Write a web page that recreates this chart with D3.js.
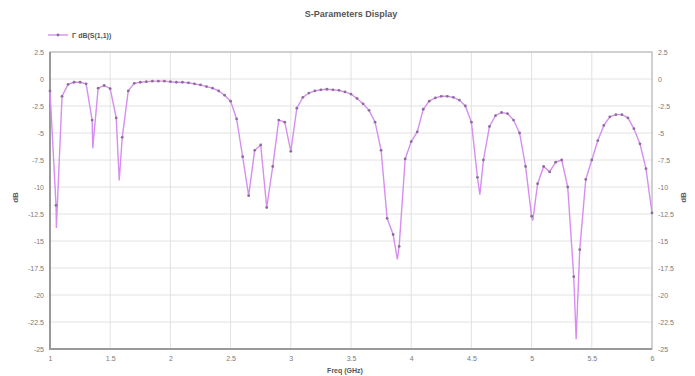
<!DOCTYPE html>
<html>
<head>
<meta charset="utf-8">
<script src="https://cdn.jsdelivr.net/npm/d3@7"></script>
<style>
  body { margin: 0; background: #fff; }
  svg text { font-family: "Liberation Sans", Arial, sans-serif; }
</style>
</head>
<body>
<div id="chart"></div>
<script>
// sample grid (markers), GHz
var freq = [1.00, 1.05, 1.10, 1.15, 1.20, 1.25, 1.30, 1.35, 1.40, 1.45,
            1.50, 1.55, 1.60, 1.65, 1.70, 1.75, 1.80, 1.85, 1.90, 1.95,
            2.00, 2.05, 2.10, 2.15, 2.20, 2.25, 2.30, 2.35, 2.40, 2.45,
            2.50, 2.55, 2.60, 2.65, 2.70, 2.75, 2.80, 2.85, 2.90, 2.95,
            3.00, 3.05, 3.10, 3.15, 3.20, 3.25, 3.30, 3.35, 3.40, 3.45,
            3.50, 3.55, 3.60, 3.65, 3.70, 3.75, 3.80, 3.85, 3.90, 3.95,
            4.00, 4.05, 4.10, 4.15, 4.20, 4.25, 4.30, 4.35, 4.40, 4.45,
            4.50, 4.55, 4.60, 4.65, 4.70, 4.75, 4.80, 4.85, 4.90, 4.95,
            5.00, 5.05, 5.10, 5.15, 5.20, 5.25, 5.30, 5.35, 5.40, 5.45,
            5.50, 5.55, 5.60, 5.65, 5.70, 5.75, 5.80, 5.85, 5.90, 5.95,
            6.00];

// dB(S(1,1))
var s11 = [-1.1, -11.7, -1.6, -0.5, -0.3, -0.3, -0.45, -3.8, -0.85, -0.6,
           -0.9, -3.6, -5.4, -1.1, -0.4, -0.3, -0.25, -0.2, -0.2, -0.2,
           -0.25, -0.3, -0.3, -0.35, -0.45, -0.55, -0.7, -0.85, -1.1, -1.5,
           -2.05, -3.7, -7.2, -10.8, -6.6, -6.1, -11.9, -8.1, -3.8, -4.0,
           -6.7, -2.7, -1.7, -1.3, -1.1, -1.0, -0.95, -1.0, -1.05, -1.2,
           -1.4, -1.8, -2.3, -2.9, -4.0, -6.6, -12.9, -14.4, -15.5, -7.4,
           -5.8, -4.9, -2.8, -2.05, -1.75, -1.6, -1.6, -1.7, -1.95, -2.5,
           -4.0, -9.1, -7.5, -4.4, -3.4, -3.1, -3.2, -3.8, -5.0, -8.1,
           -12.7, -9.7, -8.1, -8.6, -7.7, -7.5, -10.0, -18.3, -15.8, -9.3,
           -7.5, -5.7, -4.3, -3.5, -3.3, -3.3, -3.6, -4.6, -6.0, -8.3,
           -12.4];

// resonance minima between markers (line only)
var dipFreq = [1.053, 1.355, 1.575, 3.885, 4.57, 5.01, 5.37],
    dipDb   = [-13.8, -6.4, -9.4, -16.7, -10.7, -13.1, -24.1];

var xTicks = [1, 1.5, 2, 2.5, 3, 3.5, 4, 4.5, 5, 5.5, 6],
    yTicks = [2.5, 0, -2.5, -5, -7.5, -10, -12.5, -15, -17.5, -20, -22.5, -25];

var chartWidth = 695,
    chartHeight = 376,
    margin = {top: 52, right: 43, bottom: 27, left: 50},
    width = chartWidth - margin.left - margin.right,
    height = chartHeight - margin.top - margin.bottom,
    lineColor = "#d68ef0",
    markColor = "#8c6f99";

var svg = d3.select("#chart")
            .append("svg")
            .attr("width", chartWidth)
            .attr("height", chartHeight);

var g = svg.append("g")
           .attr("transform", "translate(" + margin.left + "," + margin.top + ")");

var xScale = d3.scaleLinear().domain([1, 6]).range([0, width]),
    yScale = d3.scaleLinear().domain([-25, 2.5]).range([height, 0]);

// grid
g.append("g")
 .selectAll("line")
 .data(xTicks)
 .enter().append("line")
 .attr("x1", d => xScale(d)).attr("x2", d => xScale(d))
 .attr("y1", 0).attr("y2", height)
 .attr("stroke", "#e2e2e2");

g.append("g")
 .selectAll("line")
 .data(yTicks)
 .enter().append("line")
 .attr("x1", 0).attr("x2", width)
 .attr("y1", d => yScale(d)).attr("y2", d => yScale(d))
 .attr("stroke", "#e2e2e2");

// axes, labels only
var fmt = d => String(d);
var axisLeft = d3.axisLeft(yScale).tickValues(yTicks).tickFormat(fmt).tickSize(0).tickPadding(6),
    axisRight = d3.axisRight(yScale).tickValues(yTicks).tickFormat(fmt).tickSize(0).tickPadding(6),
    axisBottom = d3.axisBottom(xScale).tickValues(xTicks).tickFormat(fmt).tickSize(0).tickPadding(7);

g.append("g").call(axisLeft);
g.append("g").attr("transform", "translate(" + width + ",0)").call(axisRight);
g.append("g").attr("transform", "translate(0," + height + ")").call(axisBottom);

g.selectAll(".domain").remove();
g.selectAll(".tick text")
 .attr("fill", "#7a7a7a")
 .style("font-size", "7px");

// frame
g.append("rect")
 .attr("width", width).attr("height", height)
 .attr("fill", "none")
 .attr("stroke", "#b0b0b0");
g.append("path")
 .attr("d", "M0,0V" + height + "H" + width)
 .attr("fill", "none")
 .attr("stroke", "#999")
 .attr("stroke-width", 2);

// trace = markers + dip points, sorted by frequency
var marks = freq.map((f, i) => [f, s11[i]]),
    pts = marks.concat(dipFreq.map((f, i) => [f, dipDb[i]]))
               .sort((a, b) => a[0] - b[0]);

var line = d3.line()
             .x(d => xScale(d[0]))
             .y(d => yScale(d[1]));

g.append("path")
 .datum(pts)
 .attr("d", line)
 .attr("fill", "none")
 .attr("stroke", lineColor)
 .attr("stroke-width", 1.4);

g.append("g")
 .selectAll("circle")
 .data(marks)
 .enter().append("circle")
 .attr("cx", d => xScale(d[0]))
 .attr("cy", d => yScale(d[1]))
 .attr("r", 1.4)
 .attr("fill", markColor);

// titles
svg.append("text")
   .attr("x", margin.left + width / 2)
   .attr("y", 17)
   .attr("text-anchor", "middle")
   .attr("fill", "#555")
   .style("font-size", "9px")
   .style("font-weight", "bold")
   .text("S-Parameters Display");

svg.append("text")
   .attr("x", margin.left + width / 2 - 6)
   .attr("y", 373)
   .attr("text-anchor", "middle")
   .attr("fill", "#555")
   .style("font-size", "7px")
   .style("font-weight", "bold")
   .text("Freq (GHz)");

[18, 686].forEach(x => {
  svg.append("text")
     .attr("transform", "translate(" + x + "," + (margin.top + height / 2 - 3) + ") rotate(-90)")
     .attr("text-anchor", "middle")
     .attr("fill", "#555")
     .style("font-size", "8px")
     .style("font-weight", "bold")
     .text("dB");
});

// legend
var leg = svg.append("g").attr("transform", "translate(48,35)");
leg.append("line")
   .attr("x1", 0).attr("x2", 20)
   .attr("stroke", lineColor)
   .attr("stroke-width", 1.4);
leg.append("circle")
   .attr("cx", 10).attr("r", 1.4)
   .attr("fill", markColor);
leg.append("text")
   .attr("x", 24).attr("y", 3)
   .attr("fill", "#555")
   .style("font-size", "7px")
   .style("font-weight", "bold")
   .text("Γ dB(S(1,1))");
</script>
</body>
</html>
